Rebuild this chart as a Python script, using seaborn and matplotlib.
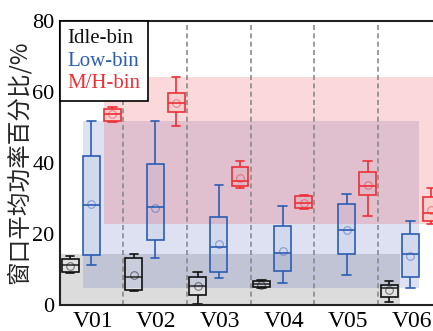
import pandas as pd
import matplotlib
matplotlib.use('Agg')
import matplotlib.pyplot as plt
import seaborn as sns
from matplotlib.lines import Line2D

### Box plots of window mean power share per vehicle, split by power bin ###

categories = ['V01', 'V02', 'V03', 'V04', 'V05', 'V06']

# five-number summaries (min, Q1, median, Q3, max); None = no data
idle_box = [[8.8, 9.2, 11.05, 12.9, 13.8],
            [3.9, 4.1, 7.85, 13.1, 14.35],
            [0.2, 2.6, 5.2, 7.7, 9.2],
            [4.7, 4.85, 5.9, 6.5, 6.9],
            None,
            [0.8, 2.0, 4.6, 5.5, 6.6]]
idle_mean = [11.0, 8.3, 5.2, 5.6, None, 4.1]

low_box = [[11.05, 14.0, 28.1, 41.8, 51.8],
           [13.0, 18.2, 27.4, 39.7, 51.8],
           [7.6, 9.3, 16.3, 24.6, 33.6],
           [6.0, 9.4, 14.6, 22.1, 27.8],
           [8.4, 14.35, 21.1, 28.4, 31.3],
           [4.75, 7.7, 14.2, 19.8, 23.6]]
low_mean = [28.4, 27.2, 17.0, 15.2, 21.1, 13.7]

mh_box = [[51.5, 51.9, 53.7, 55.2, 55.8],
          [50.4, 54.2, 56.8, 59.8, 64.2],
          [32.8, 33.4, 34.9, 38.9, 40.4],
          [26.9, 27.2, 28.7, 30.7, 31.0],
          [24.9, 31.0, 33.35, 37.5, 40.5],
          [22.7, 23.6, 25.7, 30.4, 32.8]]
mh_mean = [53.7, 56.8, 35.6, 28.7, 33.6, 26.7]

groups = [
    # label, boxes, means, offset, color, shade color, shade alpha, pad
    ('Idle-bin', idle_box, idle_mean, -0.354, '#111111', '#808080', 0.27, 0.035),
    ('Low-bin', low_box, low_mean, -0.02, '#2D5DB4', '#3A4FB0', 0.17, 0.0),
    ('M/H-bin', mh_box, mh_mean, 0.31, '#EE2F36', '#EE2F36', 0.18, 0.0),
]
box_w = 0.266

sns.set_style('white')
plt.rcParams['font.family'] = ['Liberation Serif', 'DejaVu Serif']

fig = plt.figure(figsize=(4.33, 3.31), dpi=100)
ax = fig.add_axes([60 / 433, 26.5 / 331, 373 / 433, 283.5 / 331])

# shaded ranges (whisker min..max across vehicles), drawn first
for label, boxes, means, off, col, shade, a, pad in groups:
    pos = [i + 1 + off for i, b in enumerate(boxes) if b is not None]
    vals = [b for b in boxes if b is not None]
    lo = min(v[0] for v in vals)
    hi = max(v[-1] for v in vals)
    x0 = pos[0] - box_w / 2 - pad
    x1 = pos[-1] + box_w / 2 + pad
    ax.fill_between([x0, x1], lo, hi, color=shade, alpha=a, lw=0, zorder=0)

# vehicle separators
for i in range(1, len(categories)):
    ax.axvline(i + 0.475, color='#8a8a8a', lw=1.2, ls=(0, (3, 2)), zorder=1)

for label, boxes, means, off, col, shade, a, pad in groups:
    rows = []
    for i, b in enumerate(boxes):
        if b is None:
            continue
        for v in b:
            rows.append({'pos': i + 1 + off, 'val': v})
    df = pd.DataFrame(rows)
    n0 = len(ax.patches)
    sns.boxplot(data=df, x='pos', y='val', native_scale=True, orient='x',
                width=box_w, whis=(0, 100), color=col, linecolor=col,
                linewidth=1.2, showfliers=False, ax=ax)
    for p in ax.patches[n0:]:
        p.set_facecolor((1, 1, 1, 0.15) if label == 'Idle-bin' else matplotlib.colors.to_rgba(col, 0.06))
        p.set_zorder(3)
    mpos = [i + 1 + off for i, m in enumerate(means) if m is not None]
    mval = [m for m in means if m is not None]
    ax.plot(mpos, mval, ls='none', marker='o', ms=5.5, mfc='none',
            mec=col, mew=0.8, alpha=0.5, zorder=4)

ax.set_xlim(0.489, 6.335)
ax.set_ylim(0, 80)
ax.set_xticks(range(1, len(categories) + 1))
ax.set_xticklabels(categories, fontsize=17)
ax.set_yticks([0, 20, 40, 60, 80])
ax.set_yticklabels(['0', '20', '40', '60', '80'], fontsize=16)
ax.tick_params(axis='both', direction='in', length=3, width=1, pad=4,
               colors='black')
ax.tick_params(axis='x', pad=5)
ax.set_xlabel('')
ax.set_ylabel('窗口平均功率百分比/%', fontsize=17, labelpad=1,
              family=['Noto Sans CJK SC', 'DejaVu Sans'])
for s in ['left', 'top', 'bottom']:
    ax.spines[s].set_color('#222222')
    ax.spines[s].set_linewidth(1.5)
ax.spines['right'].set_visible(False)

handles = [Line2D([], [], ls='none') for _ in groups]
leg = ax.legend(handles, [g[0] for g in groups], loc='upper left',
                bbox_to_anchor=(0, 1), borderaxespad=0, handlelength=0,
                handletextpad=0, labelcolor=[g[4] for g in groups],
                fontsize=15, fancybox=False, framealpha=1, edgecolor='black',
                labelspacing=0.15, borderpad=0.35)
leg.get_frame().set_linewidth(1.2)
leg.set_zorder(10)

plt.savefig('out.png', dpi=100)
plt.close()
